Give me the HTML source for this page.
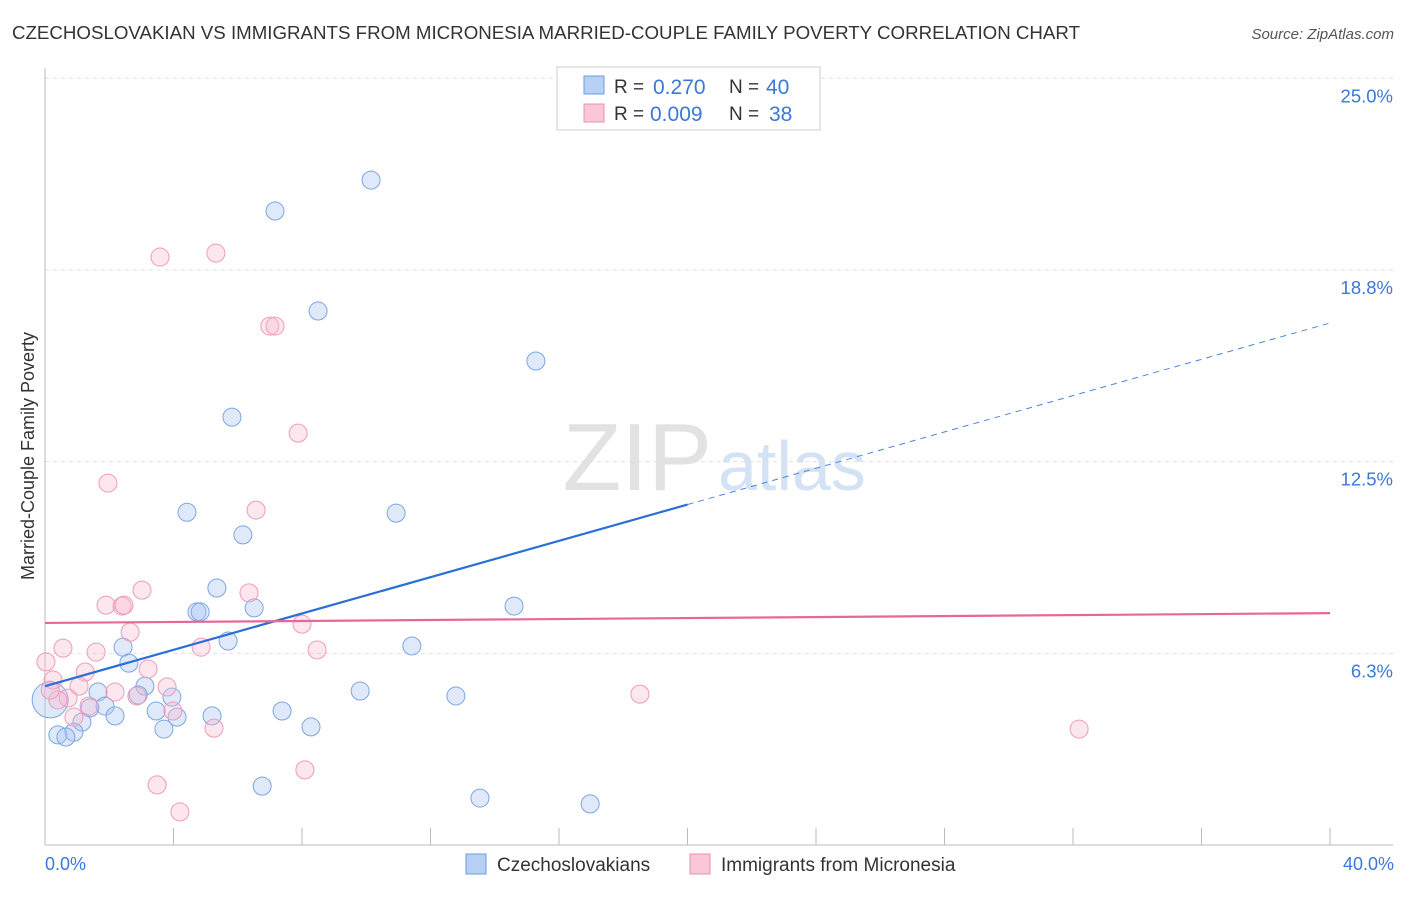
<!DOCTYPE html>
<html><head><meta charset="utf-8"><style>
body{margin:0;background:#fff;font-family:"Liberation Sans",sans-serif;}
svg text{font-family:"Liberation Sans",sans-serif;}
</style></head><body>
<svg id="c" width="1406" height="892">
<text x="12" y="39" font-size="18" fill="#333" textLength="1068" lengthAdjust="spacingAndGlyphs">CZECHOSLOVAKIAN VS IMMIGRANTS FROM MICRONESIA MARRIED-COUPLE FAMILY POVERTY CORRELATION CHART</text>
<text x="1394" y="39" font-size="15" fill="#555" font-style="italic" text-anchor="end">Source: ZipAtlas.com</text>
<text x="712" y="490" font-size="96" fill="#e2e2e2" font-family="Liberation Serif" text-anchor="end">ZIP</text>
<text x="718" y="490" font-size="70" fill="#d3e2f4">atlas</text>
<g id="grid"></g><g id="pts"></g><g id="lines"></g>
<text transform="translate(34,456) rotate(-90)" font-size="18" fill="#333" text-anchor="middle">Married-Couple Family Poverty</text>
<text x="45" y="870" font-size="18" fill="#3b78d8">0.0%</text>
<text x="1394" y="870" font-size="18" fill="#3b78d8" text-anchor="end">40.0%</text>
<g>
<rect x="557" y="67" width="263" height="63" fill="#fff" stroke="#ccc"/>
<rect x="584" y="76" width="20" height="18" fill="#b7d0f5" stroke="#6a9be0"/>
<rect x="584" y="104" width="20" height="18" fill="#f9c7d6" stroke="#ec8fae"/>
<text x="614" y="93" font-size="19" fill="#333">R =</text>
<text x="653" y="94" font-size="21" fill="#3b78d8">0.270</text>
<text x="729" y="93" font-size="19" fill="#333">N =</text>
<text x="766" y="94" font-size="21" fill="#3b78d8">40</text>
<text x="614" y="120" font-size="19" fill="#333">R =</text>
<text x="650" y="121" font-size="21" fill="#3b78d8">0.009</text>
<text x="729" y="120" font-size="19" fill="#333">N =</text>
<text x="769" y="121" font-size="21" fill="#3b78d8">38</text>
</g>
<g>
<rect x="466" y="854" width="20" height="20" fill="#b7d0f5" stroke="#6a9be0"/>
<text x="497" y="871" font-size="19" fill="#333">Czechoslovakians</text>
<rect x="690" y="854" width="20" height="20" fill="#f9c7d6" stroke="#ec8fae"/>
<text x="721" y="871" font-size="19" fill="#333">Immigrants from Micronesia</text>
</g>
</svg>
<script>
const yTicks=[6.25,12.5,18.75,25];
const yTickLabels=["6.3%","12.5%","18.8%","25.0%"];
const blueX=[10.15,7.16,8.50,15.28,5.82,4.42,10.93,6.16,5.35,4.73,4.83,6.51,14.60,2.43,5.70,11.42,2.61,3.11,1.65,2.90,9.81,12.79,3.95,1.40,1.87,3.46,2.18,4.11,5.20,7.38,1.15,3.70,8.28,0.90,0.40,0.65,6.76,13.54,16.97,0.16];
const blueY=[21.68,20.67,17.41,15.78,13.95,10.85,10.82,10.11,8.38,7.60,7.60,7.73,7.79,6.45,6.65,6.49,5.93,5.18,4.99,4.89,5.02,4.86,4.82,4.47,4.53,4.37,4.21,4.17,4.21,4.37,4.01,3.78,3.85,3.68,3.59,3.52,1.92,1.53,1.34,4.73];
const pinkX=[5.32,3.58,7.00,7.16,7.88,1.96,6.57,6.35,3.02,1.90,2.40,2.46,8.00,2.65,4.86,8.47,0.56,1.59,0.03,3.21,1.25,0.25,1.06,3.80,2.18,2.86,0.72,18.52,0.40,1.37,3.98,0.90,5.26,32.19,8.09,3.49,4.20,0.16];
const pinkY=[19.30,19.17,16.92,16.92,13.43,11.80,10.92,8.22,8.31,7.82,7.79,7.82,7.20,6.94,6.45,6.36,6.42,6.29,5.97,5.74,5.64,5.38,5.18,5.15,4.99,4.86,4.79,4.92,4.73,4.53,4.37,4.17,3.81,3.78,2.45,1.96,1.08,5.05];
const blueTrend=[5.18,17.02];
const pinkTrend=[7.24,7.56];
const blueSolidEnd=20;
const NS="http://www.w3.org/2000/svg";
const X=v=>45+v/40*1285;
const Y=v=>845-v*30.67;
function mk(t,a,p){const e=document.createElementNS(NS,t);for(const k in a)e.setAttribute(k,a[k]);p.appendChild(e);return e;}
const g=document.getElementById('grid');
yTicks.forEach((t,i)=>{
 const l=mk('line',{x1:45,x2:1393,y1:Y(t),y2:Y(t),stroke:'#e0e0e0','stroke-dasharray':'4,4'},g);
 
 
 const tx=mk('text',{x:1393,y:Y(t)+24,'font-size':18.5,fill:'#3b78d8','text-anchor':'end'},g);
 tx.textContent=yTickLabels[i];
 
 
});
const ax=mk('line',{x1:45,x2:1393,y1:845,y2:845,stroke:'#bbb'},g);


const ay=mk('line',{x1:45,x2:45,y1:68,y2:845,stroke:'#bbb'},g);


for(let i=1;i<=10;i++){const t=mk('line',{x1:X(i*4),x2:X(i*4),y1:828,y2:845,stroke:'#bbb'},g);
 
 }
const p=document.getElementById('pts');
blueX.forEach((x,i)=>{const r=i===blueX.length-1?18:9;
 const c=mk('circle',{cx:X(x),cy:Y(blueY[i]),r:r,fill:'rgba(170,198,242,0.38)',stroke:'#7aa6e4','stroke-width':1},p);
 
 });
pinkX.forEach((x,i)=>{
 const c=mk('circle',{cx:X(x),cy:Y(pinkY[i]),r:9,fill:'rgba(248,185,205,0.35)',stroke:'#ef9bb7','stroke-width':1},p);
 
 });
const L=document.getElementById('lines');
const by=x=>blueTrend[0]+(blueTrend[1]-blueTrend[0])*x/40;
const b1=mk('line',{x1:X(0),y1:Y(by(0)),x2:X(blueSolidEnd),y2:Y(by(blueSolidEnd)),stroke:'#2a6fd6','stroke-width':2.2},L);


const b2=mk('line',{x1:X(blueSolidEnd),y1:Y(by(blueSolidEnd)),x2:X(40),y2:Y(by(40)),stroke:'#4a85dc','stroke-width':1,'stroke-dasharray':'6,5'},L);


const pl=mk('line',{x1:X(0),y1:Y(pinkTrend[0]),x2:X(40),y2:Y(pinkTrend[1]),stroke:'#e8679a','stroke-width':2.2},L);


</script>
</body></html>
